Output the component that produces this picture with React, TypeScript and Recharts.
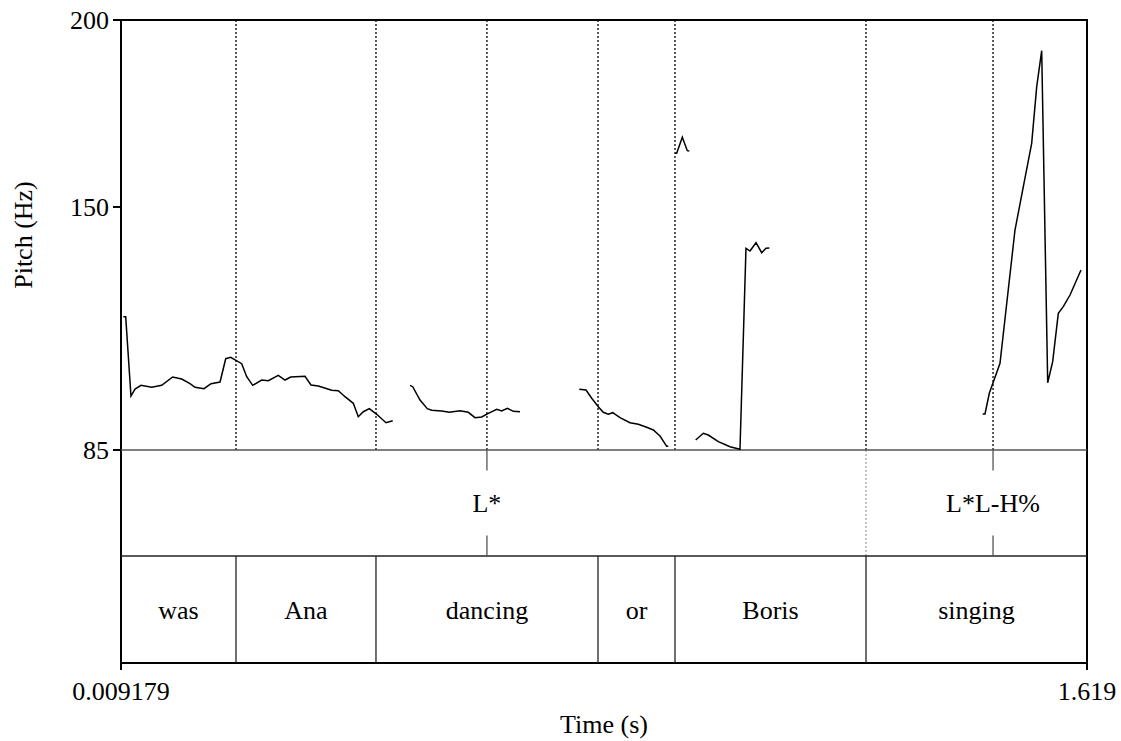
import React from "react";
import {
  ComposedChart,
  Line,
  XAxis,
  YAxis,
  ReferenceLine,
  ReferenceArea,
  ReferenceDot,
} from "recharts";

// pitch contour pieces, [time (s), pitch (Hz)]
const pitchWas: [number, number][] = [
  [0.013, 120.65], [0.017, 120.65], [0.0258, 99.44], [0.0325, 101.31], [0.0425, 102.3],
  [0.0604, 101.77], [0.077, 102.3], [0.0953, 104.52], [0.1103, 103.99], [0.1242, 102.73],
  [0.1325, 101.77], [0.1475, 101.39], [0.1592, 102.73], [0.1742, 103.19], [0.1837, 109.42],
  [0.192, 109.79], [0.2103, 108.08], [0.2187, 104.6], [0.2287, 102.3], [0.2437, 103.72],
  [0.2547, 103.53], [0.2713, 104.98], [0.2825, 103.72], [0.292, 104.52], [0.3158, 104.71],
  [0.3258, 102.38], [0.338, 102.12], [0.3603, 100.97], [0.3713, 100.86], [0.3825, 99.26],
  [0.3963, 97.49], [0.4046, 93.91], [0.413, 95.24], [0.423, 96.05], [0.4353, 94.55],
  [0.4508, 92.3], [0.462, 92.84],
];
const pitchDancing: [number, number][] = [
  [0.4908, 102.3], [0.4953, 101.93], [0.5075, 98.37], [0.5196, 96.05], [0.527, 95.62],
  [0.5436, 95.43], [0.5563, 95.08], [0.5741, 95.51], [0.588, 95.08], [0.5991, 93.64],
  [0.6103, 93.83], [0.6213, 94.82], [0.6353, 95.89], [0.6436, 95.43], [0.653, 96.15],
  [0.663, 95.35], [0.6741, 95.24],
];
const pitchOr: [number, number][] = [
  [0.7729, 101.23], [0.7841, 101.05], [0.7936, 98.83], [0.8046, 96.58], [0.8129, 95.08],
  [0.8213, 94.55], [0.8286, 94.98], [0.8408, 93.64], [0.8574, 92.3], [0.8713, 91.87],
  [0.8852, 91.07], [0.8963, 90.35], [0.9074, 88.74], [0.9186, 85.99], [0.9213, 85.99],
];
const pitchBlip: [number, number][] = [
  [0.9324, 164.35], [0.9352, 164.35], [0.9446, 168.63], [0.9529, 165.05], [0.9563, 164.97],
];
const pitchBoris: [number, number][] = [
  [0.9669, 87.68], [0.9796, 89.47], [0.9879, 89.01], [1.0046, 87.22], [1.0241, 85.88],
  [1.0407, 85.19], [1.0507, 138.94], [1.0574, 138.22], [1.0674, 140.44], [1.0769, 137.77],
  [1.0841, 138.94], [1.0896, 139.02],
];
const pitchSinging: [number, number][] = [
  [1.4452, 94.63], [1.449, 94.63], [1.4562, 100.16], [1.474, 108.19], [1.484, 122.44],
  [1.499, 143.84], [1.5129, 155.42], [1.5268, 167.02], [1.5352, 182.16], [1.5435, 191.79],
  [1.5535, 103.0], [1.5618, 108.62], [1.5712, 121.56], [1.5795, 123.33], [1.5907, 126.45],
  [1.609, 133.14],
];
const pitchSegments = [pitchWas, pitchDancing, pitchOr, pitchBlip, pitchBoris, pitchSinging];

// word tier
const words = ["was", "Ana", "dancing", "or", "Boris", "singing"];
const wordBounds = [0.009179, 0.2008, 0.4341, 0.8041, 0.9324, 1.2507, 1.619];

// tone tier
const tones = ["L*", "L*L-H%"];
const toneTimes = [0.619, 1.4624];
const toneTierGuides = [1.2507];

const timeTicks = [0.009179, 1.619];
const timeTickLabels = ["0.009179", "1.619"];
const pitchTicks = [85, 150, 200];

// vertical layout of the tiers, in the Hz units of the y axis
const Y_TOP = 200;
const Y_PITCH_MIN = 85;
const Y_TIER_SPLIT = 56.65;
const Y_BOTTOM = 28.04;
const TICK_LEN = 5.5;

const FONT = "'Liberation Serif', 'Times New Roman', serif";
const FS = 26;

function PitchLabel(props: any) {
  const vb = props.viewBox ?? { x: 0, y: 20 };
  const cx = vb.x + 32;
  const cy = vb.y + 215;
  return (
    <text
      x={cx}
      y={cy}
      transform={`rotate(-90 ${cx} ${cy})`}
      textAnchor="middle"
      fontSize={FS}
      fontFamily={FONT}
      fill="#000"
    >
      Pitch (Hz)
    </text>
  );
}

function TimeLabel(props: any) {
  const vb = props.viewBox ?? { x: 121, y: 663, width: 966 };
  return (
    <text
      x={vb.x + vb.width / 2}
      y={vb.y + 70}
      textAnchor="middle"
      fontSize={FS}
      fontFamily={FONT}
      fill="#000"
    >
      Time (s)
    </text>
  );
}

const labelStyle = { fontSize: FS, fontFamily: FONT, fill: "#000" };

export default function App() {
  return (
    <div style={{ fontFamily: FONT, width: 1121, height: 741 }}>
      <style>{"body { margin: 0; }"}</style>
      <ComposedChart
        width={1121}
        height={741}
        margin={{ top: 20, right: 34, left: 0, bottom: 8 }}
      >
        <XAxis
          type="number"
          dataKey="t"
          domain={[timeTicks[0], timeTicks[1]]}
          ticks={timeTicks}
          interval={0}
          allowDataOverflow
          height={70}
          axisLine={false}
          tickSize={7}
          tickMargin={12}
          tickLine={{ stroke: "#000", strokeWidth: 2 }}
          tick={{ fontSize: FS, fontFamily: FONT, fill: "#000" }}
          tickFormatter={(v: number) => timeTickLabels[timeTicks.indexOf(v)] ?? String(v)}
          label={<TimeLabel />}
        />
        <YAxis
          type="number"
          dataKey="hz"
          domain={[Y_BOTTOM, Y_TOP]}
          ticks={pitchTicks}
          interval={0}
          allowDataOverflow
          width={121}
          axisLine={false}
          tickSize={8}
          tickMargin={4}
          tickLine={{ stroke: "#000", strokeWidth: 2 }}
          tick={{ fontSize: FS, fontFamily: FONT, fill: "#000" }}
          label={<PitchLabel />}
        />

        {/* dotted guides in the pitch panel */}
        {wordBounds.slice(1, -1).map((t) => (
          <ReferenceLine
            key={`wg${t}`}
            segment={[{ x: t, y: Y_PITCH_MIN }, { x: t, y: Y_TOP }]}
            stroke="#000"
            strokeWidth={1.3}
            strokeDasharray="2 2"
          />
        ))}
        {toneTimes.map((t) => (
          <ReferenceLine
            key={`tg${t}`}
            segment={[{ x: t, y: Y_PITCH_MIN }, { x: t, y: Y_TOP }]}
            stroke="#000"
            strokeWidth={1.3}
            strokeDasharray="2 2"
          />
        ))}
        {toneTierGuides.map((t) => (
          <ReferenceLine
            key={`tt${t}`}
            segment={[{ x: t, y: Y_TIER_SPLIT }, { x: t, y: Y_PITCH_MIN }]}
            stroke="#888"
            strokeWidth={1}
            strokeDasharray="2 2"
          />
        ))}

        {/* tier separators */}
        <ReferenceLine y={Y_PITCH_MIN} stroke="#555" strokeWidth={1.5} />
        <ReferenceLine y={Y_TIER_SPLIT} stroke="#222" strokeWidth={1.5} />

        {/* word boundaries */}
        {wordBounds.slice(1, -1).map((t) => (
          <ReferenceLine
            key={`wb${t}`}
            segment={[{ x: t, y: Y_BOTTOM }, { x: t, y: Y_TIER_SPLIT }]}
            stroke="#222"
            strokeWidth={1.3}
          />
        ))}

        {/* tone point ticks */}
        {toneTimes.map((t) => (
          <ReferenceLine
            key={`tu${t}`}
            segment={[{ x: t, y: Y_PITCH_MIN - TICK_LEN }, { x: t, y: Y_PITCH_MIN }]}
            stroke="#555"
            strokeWidth={1.3}
          />
        ))}
        {toneTimes.map((t) => (
          <ReferenceLine
            key={`td${t}`}
            segment={[{ x: t, y: Y_TIER_SPLIT }, { x: t, y: Y_TIER_SPLIT + TICK_LEN }]}
            stroke="#555"
            strokeWidth={1.3}
          />
        ))}

        {/* word labels */}
        {words.map((w, i) => (
          <ReferenceArea
            key={`w${w}`}
            x1={wordBounds[i]}
            x2={wordBounds[i + 1]}
            y1={Y_BOTTOM}
            y2={Y_TIER_SPLIT}
            fill="none"
            stroke="none"
            label={{ value: w, position: "center", ...labelStyle }}
          />
        ))}

        {/* tone labels */}
        {tones.map((s, i) => (
          <ReferenceDot
            key={`t${s}`}
            x={toneTimes[i]}
            y={(Y_PITCH_MIN + Y_TIER_SPLIT) / 2}
            r={0}
            fill="none"
            stroke="none"
            label={{ value: s, position: "center", ...labelStyle }}
          />
        ))}

        {pitchSegments.map((seg, i) => (
          <Line
            key={`p${i}`}
            data={seg.map(([t, hz]) => ({ t, hz }))}
            dataKey="hz"
            type="linear"
            stroke="#000"
            strokeWidth={1.5}
            dot={false}
            activeDot={false}
            isAnimationActive={false}
          />
        ))}

        {/* frame */}
        <ReferenceArea
          x1={timeTicks[0]}
          x2={timeTicks[1]}
          y1={Y_BOTTOM}
          y2={Y_TOP}
          fill="none"
          stroke="#000"
          strokeWidth={2}
        />
      </ComposedChart>
    </div>
  );
}
